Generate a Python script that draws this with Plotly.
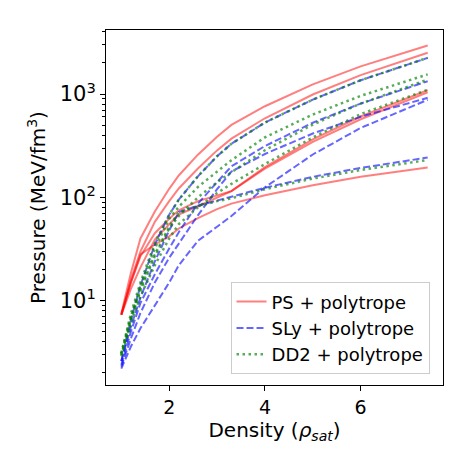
import plotly.graph_objects as go

# density grid (units of rho_sat)
density = [1.0, 1.2, 1.4, 1.7, 2.0, 2.2, 2.6, 3.0, 3.3, 4.0, 5.0, 6.0, 7.4]

# pressure (MeV/fm^3)
ps_curves = [
    [7.5, 18.5, 40, 73, 121, 163, 259, 386, 503, 762, 1242, 1852, 2950],
    [7.3, 16, 30, 58, 92, 122, 190, 285, 370, 583, 990, 1525, 2510],
    [7.3, 13, 21, 39, 55, 68, 82, 100, 115, 196, 365, 606, 1090],
    [7.3, 15, 27, 45, 62, 75, 92, 105, 115, 190, 345, 570, 1040],
    [7.3, 15, 28, 35, 42, 50, 63, 77, 87, 105, 131, 158, 195],
]
sly_curves = [
    [2.6, 6.5, 14, 35, 68, 95, 160, 250, 330, 530, 884, 1360, 2240],
    [2.4, 5.0, 9.5, 18, 32, 46, 87, 141, 200, 314, 528, 809, 1330],
    [2.3, 4.3, 7.6, 15, 26, 36, 67, 120, 178, 263, 415, 603, 920],
    [2.2, 3.6, 5.4, 9.0, 15, 22, 38, 52, 66, 125, 260, 470, 880],
    [2.6, 5.6, 10.7, 24, 48, 72, 83, 93, 100, 124, 158, 193, 243],
]
dd2_curves = [
    [3.1, 7.5, 15, 36, 68, 95, 160, 250, 330, 530, 884, 1360, 2240],
    [3.0, 7.0, 14, 32, 62, 81, 126, 179, 229, 381, 634, 960, 1550],
    [3.0, 6.5, 12.5, 27, 50, 66, 100, 140, 175, 286, 507, 809, 1380],
    [2.9, 6.0, 11, 22, 40, 55, 80, 110, 135, 210, 380, 640, 1100],
    [3.1, 6.7, 13, 28, 52, 72, 82, 92, 98, 120, 152, 184, 230],
]

major_ticks = [10, 100, 1000]
minor_ticks = [2, 3, 4, 5, 6, 7, 8, 9, 20, 30, 40, 50, 60, 70, 80, 90,
               200, 300, 400, 500, 600, 700, 800, 900, 2000, 3000, 4000]

families = [
    ("PS + polytrope", ps_curves, "rgba(255,0,0,0.5)", "solid", 2),
    ("SLy + polytrope", sly_curves, "rgba(0,0,255,0.6)", "7px,3px", 2),
    ("DD2 + polytrope", dd2_curves, "rgba(0,128,0,0.65)", "2.5px,3.5px", 2.5),
]

fig = go.Figure()
for name, curves, color, dash, width in families:
    for i, p in enumerate(curves):
        fig.add_trace(go.Scatter(
            x=density, y=p, mode="lines", name=name,
            legendgroup=name, showlegend=(i == 0),
            line=dict(color=color, width=width, dash=dash),
        ))

fig.update_layout(
    width=457, height=457,
    margin=dict(l=98, r=22, t=22, b=80),
    plot_bgcolor="white", paper_bgcolor="white",
    font=dict(family="DejaVu Sans", size=19, color="black"),
    legend=dict(
        x=0.96, y=0.03, xanchor="right", yanchor="bottom",
        bgcolor="rgba(255,255,255,0.8)", bordercolor="#cccccc", borderwidth=1,
        font=dict(size=18), tracegroupgap=0, itemwidth=30,
    ),
)
fig.update_xaxes(
    range=[0.68, 7.72], tickvals=[2, 4, 6], tickfont=dict(size=19),
    showline=True, mirror=True, linecolor="black", linewidth=1,
    ticks="outside", ticklen=5, tickcolor="black", showgrid=False, zeroline=False,
    automargin=True,
    title=dict(text="Density (<i>ρ<sub>sat</sub></i>)", standoff=4, font=dict(size=20)),
)
fig.update_yaxes(
    type="log", range=[0.184, 3.62],
    tickvals=major_ticks,
    ticktext=["10<sup>1</sup>", "10<sup>2</sup>", "10<sup>3</sup>"],
    tickfont=dict(size=21),
    showline=True, mirror=True, linecolor="black", linewidth=1,
    ticks="outside", ticklen=5, tickcolor="black", showgrid=False, zeroline=False,
    minor=dict(tickmode="array", tickvals=minor_ticks, ticks="outside",
               ticklen=3, tickcolor="black", showgrid=False),
    title=dict(text="Pressure (MeV/fm<sup>3</sup>)", standoff=8, font=dict(size=20)),
)

fig.write_html("out.html")
